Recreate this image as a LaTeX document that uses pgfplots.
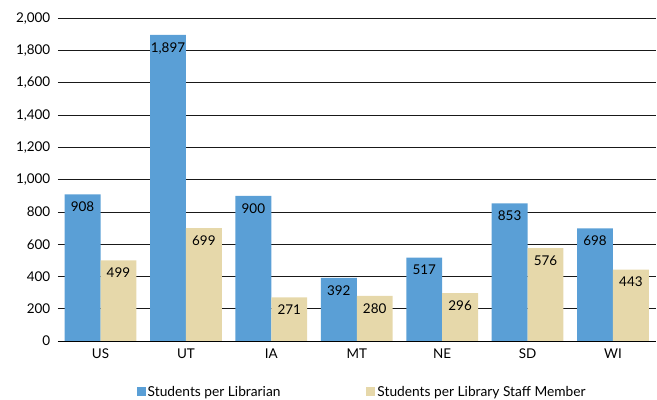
\documentclass[border=0pt]{standalone}
\usepackage{pgfplots}
\pgfplotsset{compat=1.18}
\usepackage{fontspec}
\setmainfont{Lato}
\definecolor{barblue}{RGB}{90,159,214}
\definecolor{barbeige}{RGB}{230,216,170}
\begin{document}
\begin{tikzpicture}
\begin{axis}[name=ax,
  at={(0,0)}, anchor=south west,
  scale only axis, width=597.9bp, height=322.7bp,
  ybar,
  xmin=-0.5, xmax=6.5, ymin=0, ymax=2000,
  xtick={0,...,6}, xticklabels={US,UT,IA,MT,NE,SD,WI},
  ytick={0,200,...,2000},
  scaled y ticks=false,
  /pgf/number format/assume math mode=true,
  /pgf/number format/1000 sep={,},
  tick label style={font=\fontsize{13.5}{15}\selectfont, text=black},
  xticklabel style={yshift=-4bp},
  yticklabel style={xshift=-4bp},
  major tick length=0pt,
  axis line style={draw=none},
  ymajorgrids,
  grid style={black!90, line width=0.8bp},
  enlargelimits=false,
  clip=false,
  bar width=0.42,
  nodes near coords,
  nodes near coords style={font=\fontsize{13.5}{15}\selectfont, text=black, anchor=north, yshift=-4bp,
    /pgf/number format/1000 sep={,}, /pgf/number format/assume math mode=true},
  legend columns=2,
  legend style={draw=none, at={(0.509,-0.158)}, anchor=center,
    font=\fontsize{13.8}{15}\selectfont,
    /tikz/every even column/.append style={column sep=84bp}},
]
\addplot[bar shift=-0.21, fill=barblue, draw=none,
  legend image code/.code={\fill[barblue] (0bp,-4.5bp) rectangle (9bp,4.5bp);}]
  coordinates {(0,908) (1,1897) (2,900) (3,392) (4,517) (5,853) (6,698)};
\addlegendentry{Students per Librarian}
\addplot[bar shift=0.21, fill=barbeige, draw=none,
  legend image code/.code={\fill[barbeige] (0bp,-4.5bp) rectangle (9bp,4.5bp);}]
  coordinates {(0,499) (1,699) (2,271) (3,280) (4,296) (5,576) (6,443)};
\addlegendentry{Students per Library Staff Member}
\draw[black, line width=1bp] (rel axis cs:0,0) -- (rel axis cs:1,0);
\end{axis}
\pgfresetboundingbox
\path[use as bounding box] (-57.8bp,-59bp) rectangle (599.2bp,341bp);
\end{tikzpicture}
\end{document}
